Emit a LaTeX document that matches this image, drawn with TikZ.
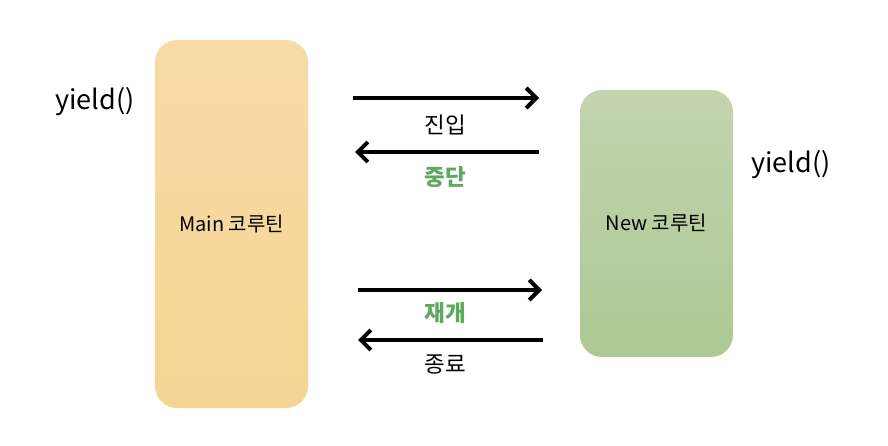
\documentclass[tikz,border=0pt]{standalone}
\usepackage{fontspec}
\setmainfont{Noto Sans CJK KR}
\usetikzlibrary{arrows.meta}
\definecolor{mainTop}{HTML}{F7DBA7}
\definecolor{mainBot}{HTML}{F5D592}
\definecolor{newTop}{HTML}{C3D4AF}
\definecolor{newBot}{HTML}{ADC892}
\definecolor{labGreen}{HTML}{5EA95F}
\tikzset{
	coro/.style={rounded corners=22pt, minimum width=153pt, inner sep=0pt, font=\fontsize{20}{24}\selectfont},
	flow/.style={line width=4pt, -{Straight Barb[length=10pt, width=20pt, line width=4pt]}},
	lab/.style={font=\fontsize{22.5}{26}\selectfont},
	yld/.style={font=\fontsize{27}{32}\selectfont}
}
\begin{document}
\begin{tikzpicture}[x=1pt, y=-1pt]
	\useasboundingbox (0,0) rectangle (888,446);
	% coroutines
	\node [coro, minimum height=368pt, top color=mainTop, bottom color=mainBot] (main) at (231.5,224) {Main 코루틴};
	\node [coro, minimum height=267pt, top color=newTop, bottom color=newBot] (new) at (656.5,223.5) {New 코루틴};
	\node [yld] (yl) at (95,102) {yield()};
	\node [yld] (yr) at (791,165) {yield()};
	% arrows
	\coordinate (a1) at (353,98);  \coordinate (b1) at (539,98);
	\coordinate (a2) at (355,152); \coordinate (b2) at (539,152);
	\coordinate (a3) at (358,290); \coordinate (b3) at (542,290);
	\coordinate (a4) at (358,340); \coordinate (b4) at (543,340);
	\draw [flow] (a1) -- (b1);
	\draw [flow] (b2) -- (a2);
	\draw [flow] (a3) -- (b3);
	\draw [flow] (b4) -- (a4);
	\node [lab] (enter) at (445,125) {진입};
	\node [lab, text=labGreen, font=\fontsize{22.5}{26}\selectfont\bfseries] (pause) at (445,177) {중단};
	\node [lab, text=labGreen, font=\fontsize{22.5}{26}\selectfont\bfseries] (resume) at (445,313) {재개};
	\node [lab] (finish) at (445,365) {종료};
\end{tikzpicture}
\end{document}
